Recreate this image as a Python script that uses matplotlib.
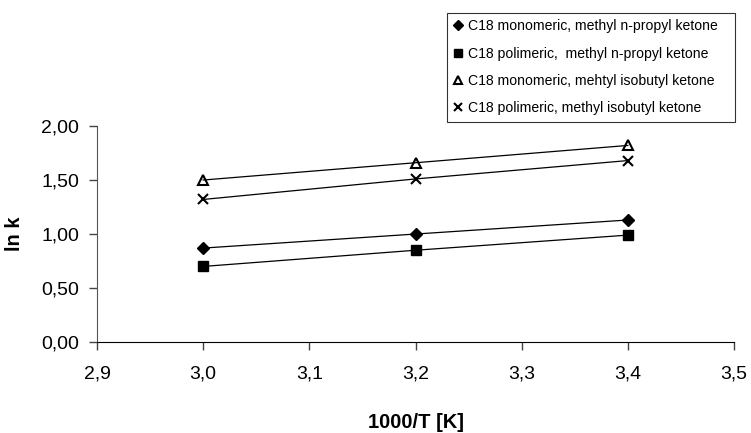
import numpy as np
import matplotlib
matplotlib.use('Agg')
import matplotlib.pyplot as plt

plt.rcParams['font.family'] = ['Liberation Sans', 'DejaVu Sans']

#%% data
invT = [3.0, 3.2, 3.4]
mono_mpk = [0.87, 1.00, 1.13]
poli_mpk = [0.70, 0.85, 0.99]
mono_mibk = [1.50, 1.66, 1.82]
poli_mibk = [1.32, 1.51, 1.68]
labels = ['C18 monomeric, methyl n-propyl ketone',
          'C18 polimeric,  methyl n-propyl ketone',
          'C18 monomeric, mehtyl isobutyl ketone',
          'C18 polimeric, methyl isobutyl ketone']
xticks = [2.9, 3.0, 3.1, 3.2, 3.3, 3.4, 3.5]
yticks = [0.0, 0.5, 1.0, 1.5, 2.0]

fig = plt.figure(figsize=(7.51, 4.33), dpi=100)
ax = fig.add_axes([97/751, 0.21, 637/751, 0.499])

series = [(mono_mpk, 'D', 'k', 6), (poli_mpk, 's', 'k', 7),
          (mono_mibk, '^', 'none', 7), (poli_mibk, 'x', 'k', 7)]
handles = []
for ys, mk, fc, ms in series:
    ax.plot(invT, ys, color='k', lw=0.9, zorder=2)
    h, = ax.plot(invT, ys, ls='none', marker=mk, mfc=fc, mec='k', ms=ms,
                 mew=1.5 if mk in ('^', 'x') else 1, zorder=3)
    handles.append(h)

ax.set_xlim(2.9, 3.5)
ax.set_ylim(0, 2.0)
ax.set_xticks(xticks)
ax.set_xticklabels([('%.1f' % v).replace('.', ',') for v in xticks])
ax.set_yticks(yticks)
ax.set_yticklabels([('%.2f' % v).replace('.', ',') for v in yticks])
ax.tick_params(direction='out', length=6, width=1, labelsize=14, color='#444444')
ax.tick_params(axis='x', pad=11)
ax.tick_params(axis='y', pad=7)
for s in ['top', 'right']:
    ax.spines[s].set_visible(False)
ax.spines['left'].set_color('#555555')
ax.set_xlabel('1000/T [K]', fontsize=14.5, fontweight='bold', labelpad=22)
ax.set_ylabel('ln k', fontsize=14.5, fontweight='bold', labelpad=12)

leg = fig.legend(handles, labels, loc='upper left',
                 bbox_to_anchor=(447/751, 1 - 124/433, 288/751, 111/433),
                 mode='expand', fontsize=10.1, frameon=True, fancybox=False,
                 edgecolor='k', handlelength=0.6, handletextpad=0.45,
                 labelspacing=0.95, borderpad=0.45, markerscale=0.85,
                 borderaxespad=0)
leg.get_frame().set_linewidth(0.8)

fig.savefig('out.png', dpi=100)
